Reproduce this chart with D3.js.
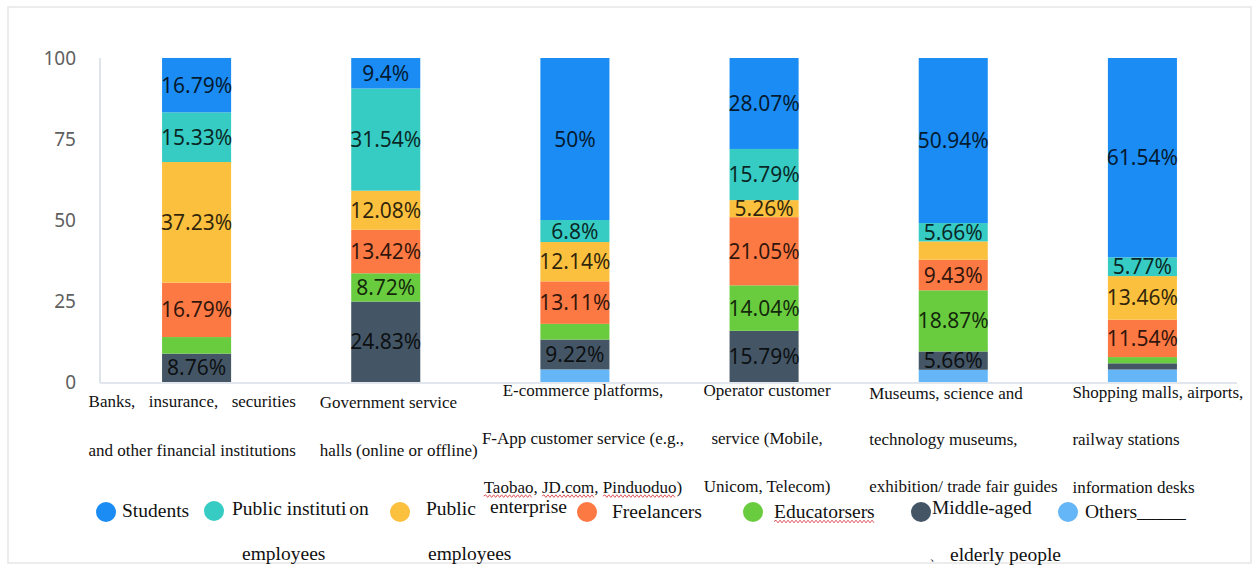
<!DOCTYPE html>
<html>
<head>
<meta charset="utf-8">
<script src="https://cdn.jsdelivr.net/npm/d3@7"></script>
<style>
  html, body { margin: 0; padding: 0; background: #fff; }
  svg { display: block; }
  .serif { font-family: "Liberation Serif", "Times New Roman", serif; fill: #111; }
</style>
</head>
<body>
<svg id="chart" width="1259" height="565"></svg>
<script>
// ---- data -------------------------------------------------------------
const categoryLines = [
  ["Banks, insurance, securities", "and other financial institutions"],
  ["Government service", "halls (online or offline)"],
  ["E-commerce platforms,", "F-App customer service (e.g.,", "Taobao, JD.com, Pinduoduo)"],
  ["Operator customer", "service (Mobile,", "Unicom, Telecom)"],
  ["Museums, science and", "technology museums,", "exhibition/ trade fair guides"],
  ["Shopping malls, airports,", "railway stations", "information desks"]
];
const categories = categoryLines.map(l => l.join(" "));

// percentage of respondents in each group, per service scenario
const students          = [16.79, 9.4, 50, 28.07, 50.94, 61.54];
const publicInstitution = [15.33, 31.54, 6.8, 15.79, 5.66, 5.77];
const publicEnterprise  = [37.23, 12.08, 12.14, 5.26, 5.66, 13.46];
const freelancers       = [16.79, 13.42, 13.11, 21.05, 9.43, 11.54];
const educators         = [5.11, 8.72, 4.85, 14.04, 18.87, 1.92];
const middleAged        = [8.76, 24.83, 9.22, 15.79, 5.66, 1.92];
const others            = [0, 0, 3.88, 0, 3.77, 3.85];

// which segment values carry a printed label
const showStudents          = [1, 1, 1, 1, 1, 1];
const showPublicInstitution = [1, 1, 1, 1, 1, 1];
const showPublicEnterprise  = [1, 1, 1, 1, 0, 1];
const showFreelancers       = [1, 1, 1, 1, 1, 1];
const showEducators         = [0, 1, 0, 1, 1, 0];
const showMiddleAged        = [1, 1, 1, 1, 1, 0];
const showOthers            = [0, 0, 0, 0, 0, 0];

const yTicks = [0, 25, 50, 75, 100];

// ---- series setup (stack order: bottom -> top) -------------------------
const seriesKeys = ["others", "middleAged", "educators", "freelancers",
                    "publicEnterprise", "publicInstitution", "students"];
const seriesValues = { students, publicInstitution, publicEnterprise, freelancers, educators, middleAged, others };
const seriesShow = {
  students: showStudents, publicInstitution: showPublicInstitution,
  publicEnterprise: showPublicEnterprise, freelancers: showFreelancers,
  educators: showEducators, middleAged: showMiddleAged, others: showOthers
};
const colors = {
  students: "#1a8cf3",
  publicInstitution: "#36cbc3",
  publicEnterprise: "#fbc03e",
  freelancers: "#fd7943",
  educators: "#69cc3e",
  middleAged: "#445665",
  others: "#64b6f6"
};

const table = categories.map((c, i) => {
  const row = { category: c };
  seriesKeys.forEach(k => row[k] = seriesValues[k][i]);
  return row;
});
const stacked = d3.stack().keys(seriesKeys)(table);

// ---- layout -------------------------------------------------------------
const svg = d3.select("#chart");

svg.append("rect")
  .attr("x", 8).attr("y", 7).attr("width", 1243).attr("height", 556)
  .attr("fill", "#fff").attr("stroke", "#e6e6e6").attr("stroke-width", 1.5);

const x = d3.scaleBand().domain(categories)
  .range([102, 1237]).paddingInner(0.635).paddingOuter(0.3175);
const y = d3.scaleLinear().domain([0, 100]).range([382, 58]);

// y axis
const yAxis = svg.append("g")
  .attr("transform", "translate(100,0)")
  .call(d3.axisLeft(y).tickValues(yTicks).tickSize(0).tickPadding(24));
yAxis.select(".domain").remove();
yAxis.selectAll("text")
  .attr("font-family", "'Noto Sans', 'Open Sans', sans-serif")
  .attr("font-size", 19)
  .attr("fill", "#5f5f5f");

svg.append("line")
  .attr("x1", 100).attr("x2", 100).attr("y1", y(100)).attr("y2", y(0) + 1)
  .attr("stroke", "#dfe3ea").attr("stroke-width", 2);

// bars
const layers = svg.append("g").selectAll("g")
  .data(stacked).join("g")
  .attr("fill", d => colors[d.key]);

layers.selectAll("rect")
  .data(d => d.map(p => ({ key: d.key, p })))
  .join("rect")
  .attr("x", d => x(d.p.data.category))
  .attr("width", x.bandwidth())
  .attr("y", d => y(d.p[1]))
  .attr("height", d => Math.max(0, y(d.p[0]) - y(d.p[1])));

svg.append("line")
  .attr("x1", 100).attr("x2", 1237).attr("y1", y(0) + 1).attr("y2", y(0) + 1)
  .attr("stroke", "#e2e6ed").attr("stroke-width", 2);

// segment value labels
const labelData = [];
stacked.forEach(s => s.forEach((p, i) => {
  if (seriesShow[s.key][i]) labelData.push({ key: s.key, p, v: seriesValues[s.key][i] });
}));
svg.append("g").selectAll("text")
  .data(labelData).join("text")
  .attr("x", d => x(d.p.data.category) + x.bandwidth() / 2)
  .attr("y", d => (y(d.p[0]) + y(d.p[1])) / 2)
  .attr("dy", "0.36em")
  .attr("text-anchor", "middle")
  .attr("font-family", "'Noto Sans', 'Open Sans', sans-serif")
  .attr("font-size", 21)
  .attr("fill", "#000")
  .attr("fill-opacity", 0.82)
  .text(d => d.v + "%");

// ---- category labels ----------------------------------------------------
const catLayout = [
  { dx: -108, anchor: "start", justify: true, lineY: [401, 450] },
  { dx: -66, anchor: "start", lineY: [402, 450] },
  { dx: 8, anchor: "middle", lineY: [390, 438, 487] },
  { dx: 3, anchor: "middle", lineY: [390, 438, 486] },
  { dx: -84, anchor: "start", lineY: [393, 439, 486] },
  { dx: -70, anchor: "start", lineY: [392, 439, 487] }
];
const catG = svg.append("g");
const spellMarks = [];
categoryLines.forEach((lines, ci) => {
  const lay = catLayout[ci];
  const cx = x(categories[ci]) + x.bandwidth() / 2 + lay.dx;
  const nodes = lines.map((line, li) =>
    catG.append("text").attr("class", "serif")
      .attr("x", cx).attr("y", lay.lineY[li]).attr("dy", "0.33em")
      .attr("text-anchor", lay.anchor)
      .attr("font-size", 17)
      .text(line));
  if (lay.justify) {
    const widths = nodes.map(n => n.node().getComputedTextLength());
    const target = d3.max(widths);
    nodes.slice(0, -1).forEach((n, k) => {
      const gaps = (lines[k].match(/ /g) || []).length;
      if (gaps) n.attr("word-spacing", (target - widths[k]) / gaps);
    });
  }
  nodes.forEach((n, li) => {
    ["Taobao", "JD.com", "Pinduoduo"].forEach(w => {
      const idx = lines[li].indexOf(w);
      if (idx >= 0) spellMarks.push({ node: n.node(), from: idx, to: idx + w.length - 1 });
    });
  });
});

// ---- legend -------------------------------------------------------------
const legendItems = [
  { key: "students", cx: 106, cy: 512,
    lines: [{ t: ["Students"], x: 122, y: 517 }] },
  { key: "publicInstitution", cx: 214, cy: 511,
    lines: [{ t: ["Public instituti", "on"], x: 232, y: 515 }, { t: ["employees"], x: 242, y: 560 }] },
  { key: "publicEnterprise", cx: 400, cy: 512,
    lines: [{ t: ["Public"], x: 426, y: 515 }, { t: ["enterprise"], x: 490, y: 513 }, { t: ["employees"], x: 428, y: 560 }] },
  { key: "freelancers", cx: 587, cy: 512,
    lines: [{ t: ["Freelancers"], x: 612, y: 518 }] },
  { key: "educators", cx: 753, cy: 512,
    lines: [{ t: ["Educatorsers"], x: 774, y: 518, spell: true }] },
  { key: "middleAged", cx: 921, cy: 512,
    lines: [{ t: ["Middle-aged"], x: 932, y: 514 }, { t: ["、"], x: 929, y: 560, small: true }, { t: ["elderly people"], x: 950, y: 561 }] },
  { key: "others", cx: 1068, cy: 512,
    lines: [{ t: ["Others_____"], x: 1085, y: 518 }] }
];
const legG = svg.append("g");
legendItems.forEach(item => {
  legG.append("circle")
    .attr("cx", item.cx).attr("cy", item.cy).attr("r", 10)
    .attr("fill", colors[item.key]);
  item.lines.forEach(l => {
    const t = legG.append("text").attr("class", "serif")
      .attr("x", l.x).attr("y", l.y)
      .attr("font-size", l.small ? 14 : 19.5);
    l.t.forEach((part, pi) => {
      t.append("tspan").attr("dx", pi ? 3 : 0).text(part);
    });
    if (l.spell) spellMarks.push({ node: t.node(), from: 0, to: l.t[0].length - 1 });
  });
});

// red wavy spell-check underlines
const wave = (x0, x1, yy) => {
  let d = `M${x0},${yy}`;
  let up = true;
  for (let xx = x0 + 2; xx <= x1; xx += 2) {
    d += `L${xx},${yy + (up ? -1.3 : 1.3)}`;
    up = !up;
  }
  return d;
};
spellMarks.forEach(m => {
  const a = m.node.getStartPositionOfChar(m.from);
  const b = m.node.getEndPositionOfChar(m.to);
  svg.append("path")
    .attr("d", wave(a.x, b.x, a.y + 3.5))
    .attr("fill", "none")
    .attr("stroke", "#d8434a")
    .attr("stroke-width", 0.9);
});
</script>
</body>
</html>
